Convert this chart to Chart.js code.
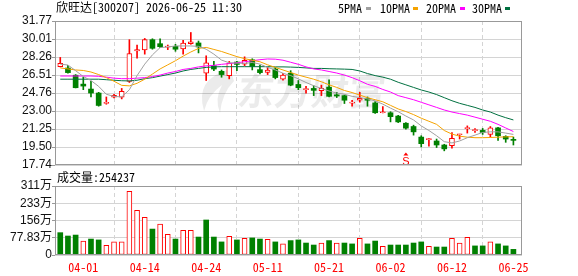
<!DOCTYPE html>
<html><head><meta charset="utf-8">
<script src="https://cdn.jsdelivr.net/npm/chart.js@4.4.1/dist/chart.umd.min.js"></script>
<style>
html,body{margin:0;padding:0;background:#fff;width:578px;height:276px;overflow:hidden;position:relative}
canvas{position:absolute;left:0}
.t{position:absolute;font-family:'Noto Sans Mono CJK SC','Noto Sans CJK SC',monospace;font-size:12px;line-height:14px;color:#000;white-space:pre}
.m{position:absolute;width:5px;height:3px}
</style></head><body>
<canvas id="pc" width="578" height="176" style="top:0;width:578px;height:176px"></canvas>
<canvas id="vc" width="578" height="106" style="top:170px;width:578px;height:106px"></canvas>
<div class="t" style="left:56px;top:0px">欣旺达[300207] 2026-06-25 11:30</div>
<div class="t" style="left:338px;top:1px">5PMA</div><div class="m" style="left:366px;top:7px;background:#a0a0a0"></div>
<div class="t" style="left:380px;top:1px">10PMA</div><div class="m" style="left:413px;top:7px;background:#f5a300"></div>
<div class="t" style="left:426px;top:1px">20PMA</div><div class="m" style="left:460px;top:7px;background:#ff00ff"></div>
<div class="t" style="left:472px;top:1px">30PMA</div><div class="m" style="left:505px;top:7px;background:#007040"></div>
<div class="t" style="left:57px;top:170px">成交量:254237</div>
<script>
// ---------- data ----------
const DATES = ['03-27','03-30','03-31','04-01','04-02','04-03','04-07','04-08','04-09','04-10',
  '04-13','04-14','04-15','04-16','04-17','04-20','04-21','04-22','04-23','04-24',
  '04-27','04-28','04-29','04-30','05-06','05-07','05-08','05-11','05-12','05-13',
  '05-14','05-15','05-18','05-19','05-20','05-21','05-22','05-25','05-26','05-27',
  '05-28','05-29','06-01','06-02','06-03','06-04','06-05','06-08','06-09','06-10',
  '06-11','06-12','06-15','06-16','06-17','06-18','06-22','06-23','06-24','06-25'];
const OPEN = [27.32,27.19,26.49,25.62,25.14,24.75,23.74,24.34,24.34,25.88,
  28.86,28.95,29.95,29.56,29.23,29.30,29.05,29.56,29.63,26.68,
  27.41,26.87,26.45,27.77,27.57,27.99,27.03,26.77,27.09,26.10,
  26.68,25.59,25.09,25.20,24.98,25.33,24.58,24.50,23.77,24.05,
  24.24,23.79,22.83,22.83,22.51,21.81,21.49,20.46,20.21,20.08,
  19.69,19.63,20.69,21.28,21.09,21.11,20.72,21.36,20.53,20.21];
const HIGH = [28.22,27.45,26.55,26.29,25.88,24.82,24.37,24.63,25.20,29.95,
  29.43,30.07,30.04,30.04,29.43,29.50,29.88,30.65,29.82,28.38,
  27.83,27.00,27.83,27.83,28.28,28.09,27.48,27.25,27.25,26.68,
  26.93,25.97,25.40,25.46,25.52,26.04,24.82,24.56,24.05,24.82,
  24.37,23.92,23.44,22.93,22.58,21.87,21.62,20.59,20.33,20.27,
  19.76,20.91,20.74,21.55,21.30,21.30,21.49,21.42,20.59,20.46];
const LOW = [27.30,26.68,25.25,25.08,24.37,23.47,23.66,24.27,24.18,25.78,
  28.15,28.54,29.02,29.18,28.98,28.82,28.54,29.50,28.66,25.97,
  26.93,26.29,26.13,26.93,27.41,27.00,26.61,26.55,26.13,26.00,
  25.46,25.08,24.75,24.50,24.50,24.37,24.31,23.73,23.47,23.86,
  23.47,22.77,22.82,21.94,21.87,21.23,20.65,19.50,19.57,19.44,
  19.12,19.37,20.27,20.85,20.91,20.72,20.46,20.14,19.95,19.69];
const CLOSE = [27.64,26.74,25.27,25.43,24.75,23.54,23.78,24.53,24.92,28.60,
  28.98,29.95,29.11,29.27,29.30,29.02,29.63,29.75,29.24,27.70,
  27.09,26.55,27.67,27.54,27.93,27.35,26.74,27.00,26.26,26.49,
  25.52,25.27,25.12,25.01,25.20,24.43,24.46,24.05,23.80,24.24,
  24.05,22.83,22.85,22.45,21.94,21.33,20.97,19.82,20.24,19.69,
  19.31,20.33,20.72,21.30,21.11,20.91,21.36,20.59,20.27,20.14];
// volume in 万 shares, and whether the day closed up (hollow red) or down (green)
const VOLUME = [100.8,85.7,90,63,72,68,44,59,59,287,
  201,170,117,140,93,72,111,111,81,158,
  81,59,84,68,75,77,72,71,59,50,
  65,68,54,45,54,65,54,54,50,75,
  50,63,39,45,45,45,54,59,39,36,
  36,75,54,80,41,41,59,50,41,25.42];
const VOL_UP = [0,0,0,1,0,0,1,1,1,1, 1,1,0,1,1,0,1,1,0,0, 0,0,1,0,1,0,0,1,0,1,
  0,0,0,0,1,0,1,0,0,1, 0,0,1,0,0,0,0,0,1,0, 0,1,1,1,0,0,1,0,0,0];
const MA5 = [27.57,27.48,26.93,26.36,25.97,25.40,24.63,24.43,24.37,25.07,
  26.45,27.57,28.47,29.18,29.24,29.34,29.34,29.34,29.30,29.02,
  28.54,27.96,27.70,27.67,27.64,27.73,27.57,27.25,27.00,26.68,
  26.45,26.13,25.78,25.46,25.20,24.95,24.75,24.63,24.43,24.31,
  24.18,23.99,23.67,23.28,22.93,22.51,22.13,21.55,21.10,20.59,
  20.01,19.89,20.08,20.40,20.65,20.91,20.97,20.97,20.85,20.72];
const MA10 = [27.20,27.10,27.00,26.95,26.80,26.55,26.25,25.90,25.50,25.45,
  25.70,26.10,26.60,27.10,27.50,27.90,28.35,28.75,29.10,29.20,
  29.00,28.80,28.55,28.30,28.10,27.95,27.80,27.50,27.25,27.00,
  26.75,26.50,26.30,26.10,25.85,25.55,25.30,25.00,24.80,24.55,
  24.30,24.10,23.90,23.55,23.20,22.95,22.65,22.30,22.00,21.70,
  21.10,20.75,20.55,20.45,20.40,20.40,20.42,20.45,20.48,20.50];
const MA20 = [26.41,26.41,26.41,26.41,26.41,26.38,26.30,26.20,26.15,26.15,
  26.20,26.25,26.35,26.50,26.70,26.85,27.05,27.15,27.30,27.40,
  27.45,27.55,27.62,27.70,27.80,27.90,28.00,28.07,28.05,27.95,
  27.75,27.55,27.30,27.10,27.00,26.85,26.70,26.50,26.25,25.95,
  25.60,25.40,25.10,24.85,24.50,24.30,24.10,23.85,23.60,23.35,
  23.10,22.90,22.75,22.60,22.40,22.20,22.00,21.70,21.35,21.00];
const MA30 = [26.10,26.10,26.10,26.10,26.10,26.10,26.05,26.00,25.95,25.93,
  26.00,26.15,26.25,26.40,26.55,26.70,26.90,27.05,27.15,27.25,
  27.30,27.32,27.32,27.32,27.32,27.32,27.32,27.32,27.30,27.30,
  27.28,27.25,27.20,27.15,27.15,27.12,27.10,27.08,27.05,26.90,
  26.65,26.45,26.30,26.10,25.80,25.55,25.30,25.05,24.85,24.60,
  24.30,24.00,23.75,23.55,23.35,23.10,22.90,22.60,22.35,22.13];
const PRICE_TICKS = ['17.74','19.50','21.25','23.00','24.76','26.51','28.26','30.01','31.77'];
const VOL_TICK_VALUES = [0,77.83,155.66,233.49,311.32];
const VOL_TICK_LABELS = ['0','77.83万','156万','233万','311万'];
const DATE_TICKS = ['04-01','04-14','04-24','05-11','05-21','06-02','06-12','06-25'];
const SIGNALS = [{date:'06-04', text:'S'}];
const WATERMARK = '东方财富';

// ---------- styles ----------
const RED = '#ff0000', GREEN = '#008000', GRID = '#d4d4d4', FRAME = '#999999';
const X_MIN = -0.685, X_MAX = 60.12;
const P_MIN = parseFloat(PRICE_TICKS[0]), P_MAX = parseFloat(PRICE_TICKS[PRICE_TICKS.length-1]);
const idx = DATES.map((d,i)=>i);
const tickIdx = DATE_TICKS.map(d => DATES.indexOf(d));

const framePlugin = {
  id:'frame',
  afterDraw(chart){
    const a = chart.chartArea, c = chart.ctx;
    c.save(); c.strokeStyle = FRAME; c.lineWidth = 1;
    c.strokeRect(Math.round(a.left)+0.5, Math.round(a.top)+0.5, Math.round(a.right-a.left)-1, Math.round(a.bottom-a.top)-1);
    c.restore();
  }
};
const decoPlugin = {
  id:'deco',
  beforeDatasetsDraw(chart){
    const c = chart.ctx, xs = chart.scales.x;
    const x0 = xs.getPixelForValue(18.2), y0 = 91;
    c.save();
    c.fillStyle = 'rgba(0,0,0,0.08)';
    // logo swoosh
    c.beginPath();
    c.moveTo(x0+30, y0-22);
    c.quadraticCurveTo(x0-6, y0-12, x0+4, y0+20);
    c.quadraticCurveTo(x0+8, y0+4, x0+22, y0-6);
    c.quadraticCurveTo(x0+14, y0+8, x0+20, y0+22);
    c.quadraticCurveTo(x0+22, y0+2, x0+34, y0-10);
    c.closePath(); c.fill();
    // brand text
    c.setTransform(1,0,-0.12,1,11,0);
    c.font = 'bold 37px "Noto Sans CJK SC"';
    c.textBaseline = 'middle';
    c.textAlign = 'left';
    c.fillText(WATERMARK, xs.getPixelForValue(23.1), y0);
    c.restore();
  },
  afterDatasetsDraw(chart){
    const c = chart.ctx, xs = chart.scales.x, a = chart.chartArea;
    c.save();
    SIGNALS.forEach(s => {
      const x = xs.getPixelForValue(DATES.indexOf(s.date));
      c.fillStyle = RED;
      c.beginPath(); c.moveTo(x, a.bottom-12.5); c.lineTo(x-2.5, a.bottom-9.5); c.lineTo(x+2.5, a.bottom-9.5); c.closePath(); c.fill();
      c.font = '11px "Liberation Sans"'; c.textAlign='center'; c.textBaseline='alphabetic';
      c.fillText(s.text, x, a.bottom);
    });
    c.restore();
  }
};

const xScaleBase = {
  type:'linear', min:X_MIN, max:X_MAX, offset:false,
  afterBuildTicks(s){ s.ticks = tickIdx.map(v=>({value:v})); },
  grid:{color:GRID, drawTicks:false, lineWidth:1},
  border:{display:false, dash:[4,3]},
};

const up = idx.map(i => CLOSE[i] >= OPEN[i]);

new Chart(document.getElementById('pc'), {
  type:'bar',
  data:{datasets:[
    {type:'line', label:'5PMA', data:idx.map(i=>({x:i,y:MA5[i]})), borderColor:'#a0a0a0', borderWidth:1, pointRadius:0, order:-4},
    {type:'line', label:'10PMA', data:idx.map(i=>({x:i,y:MA10[i]})), borderColor:'#f5a300', borderWidth:1, pointRadius:0, order:-3},
    {type:'line', label:'20PMA', data:idx.map(i=>({x:i,y:MA20[i]})), borderColor:'#ff00ff', borderWidth:1, pointRadius:0, order:-2},
    {type:'line', label:'30PMA', data:idx.map(i=>({x:i,y:MA30[i]})), borderColor:'#007040', borderWidth:1, pointRadius:0, order:-1},
    {label:'body', data:idx.map(i=>({x:i,y:[OPEN[i],CLOSE[i]]})), barThickness:5, grouped:false, minBarLength:1,
      backgroundColor:idx.map(i=>up[i]?'#ffffff':GREEN), borderColor:idx.map(i=>up[i]?RED:GREEN),
      borderWidth:idx.map(i=>up[i]?1:0), borderSkipped:false, order:0},
    {label:'wick', data:idx.map(i=>({x:i,y:[LOW[i],HIGH[i]]})), barThickness:1, grouped:false,
      backgroundColor:idx.map(i=>up[i]?RED:GREEN), borderWidth:0, order:1},
  ]},
  options:{
    responsive:false, animation:false, devicePixelRatio:1,
    layout:{padding:{left:0,right:56,top:21,bottom:11}},
    plugins:{legend:{display:false}, tooltip:{enabled:false}},
    scales:{
      x:Object.assign({}, xScaleBase, {ticks:{display:false}, afterFit(s){s.height=0;}}),
      y:{type:'linear', min:P_MIN, max:P_MAX,
        afterBuildTicks(s){ s.ticks = PRICE_TICKS.map((t,k)=>({value:P_MIN + k*(P_MAX-P_MIN)/(PRICE_TICKS.length-1)})); },
        afterFit(s){ s.width = 55; },
        ticks:{autoSkip:false, padding:0, color:'#111', font:{family:'"Liberation Sans", Arial', size:12},
          callback:(v,k)=>PRICE_TICKS[k]},
        grid:{color:GRID, tickColor:FRAME, tickLength:3, drawTicks:true},
        border:{display:false}}
    }
  },
  plugins:[decoPlugin, framePlugin]
});

new Chart(document.getElementById('vc'), {
  type:'bar',
  data:{datasets:[
    {label:'volume', data:idx.map(i=>({x:i,y:VOLUME[i]})), barThickness:5, grouped:false,
      backgroundColor:idx.map(i=>VOL_UP[i]?'#ffffff':GREEN), borderColor:idx.map(i=>VOL_UP[i]?RED:GREEN),
      borderWidth:idx.map(i=>VOL_UP[i]?1:0), borderSkipped:false}
  ]},
  options:{
    responsive:false, animation:false, devicePixelRatio:1,
    layout:{padding:{left:0,right:56,top:16,bottom:0}},
    plugins:{legend:{display:false}, tooltip:{enabled:false}},
    scales:{
      x:Object.assign({}, xScaleBase, {
        ticks:{autoSkip:false, maxRotation:0, padding:5, color:RED,
          font:{family:'"Noto Sans Mono CJK SC","DejaVu Sans Mono",monospace', size:12},
          callback:(v)=>DATES[v]},
        afterFit(s){ s.height = 21; }}),
      y:{type:'linear', min:VOL_TICK_VALUES[0], max:VOL_TICK_VALUES[VOL_TICK_VALUES.length-1],
        afterBuildTicks(s){ s.ticks = VOL_TICK_VALUES.map(v=>({value:v})); },
        afterFit(s){ s.width = 55; },
        ticks:{autoSkip:false, padding:0, color:'#111', font:{family:'"Liberation Sans","Noto Sans CJK SC"', size:12},
          callback:(v,k)=>VOL_TICK_LABELS[k]},
        grid:{color:GRID, tickColor:FRAME, tickLength:3, drawTicks:true},
        border:{display:false}}
    }
  },
  plugins:[framePlugin]
});
</script>
</body></html>
